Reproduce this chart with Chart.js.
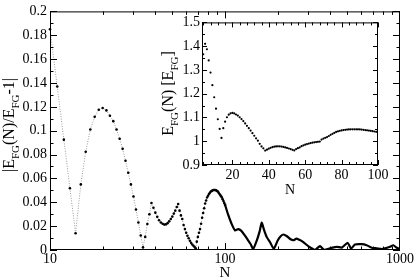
<!DOCTYPE html>
<html>
<head>
<meta charset="utf-8">
<title>Finite-N energy deviation</title>
<script src="https://cdn.jsdelivr.net/npm/chart.js"></script>
<style>
  body{margin:0;background:#fff}
  #wrap{position:relative;width:415px;height:279px;background:#fff}
  #main{position:absolute;left:0;top:0;width:415px;height:279px}
  #inset{position:absolute;left:148px;top:12px;width:244px;height:190px}
</style>
</head>
<body>
<div id="wrap">
  <canvas id="main" width="415" height="279"></canvas>
  <canvas id="inset" width="244" height="190"></canvas>
</div>
<script>
// main panel, N = 10..100 (one dot per N)
const dotN = [10,11,12,13,14,15,16,17,18,19,20,21,22,23,24,25,26,27,28,29,
  30,31,32,33,34,35,36,37,38,39,40,41,42,43,44,45,46,47,48,49,
  50,51,52,53,54,55,56,57,58,59,60,61,62,63,64,65,66,67,68,69,
  70,71,72,73,74,75,76,77,78,79,80,81,82,83,84,85,86,87,88,89,
  90,91,92,93,94,95,96,97,98,99,100];
const dotDev = [0.185,0.137,0.0925,0.0517,0.0141,0.055,0.0824,0.101,0.1116,0.1176,
  0.119,0.117,0.1125,0.108,0.101,0.0933,0.0848,0.0748,0.0648,0.055,
  0.0449,0.034,0.0231,0.0122,0.0022,0.011,0.0218,0.030,0.0394,0.0354,
  0.0313,0.0278,0.025,0.0231,0.022,0.0213,0.0215,0.0225,0.024,0.026,
  0.028,0.0305,0.033,0.036,0.0385,0.033,0.029,0.026,0.021,0.0175,
  0.0145,0.012,0.0098,0.0078,0.006,0.0046,0.0036,0.0025,0.0015,0.007,
  0.011,0.0145,0.0175,0.022,0.027,0.031,0.035,0.039,0.0415,0.044,
  0.0455,0.047,0.048,0.049,0.0495,0.050,0.0503,0.0503,0.0503,0.050,
  0.0495,0.049,0.048,0.047,0.046,0.045,0.044,0.0425,0.041,0.0395,
  0.038];

// main panel, N > 100 (dense, drawn as a thick line)
const tailN = [100,104,109,114,119,124,130,135,140,145,152,158,162,167,173,181,190,
  200,208,216,226,237,246,256,266,279,302,327,349,368,398,435,465,502,525,553,
  604,645,689,736,786,821,877,915,957,1000];
const tailDev = [0.038,0.030,0.022,0.0165,0.0175,0.016,0.012,0.0085,0.005,0.001,0.008,0.016,0.023,0.017,0.011,0.0065,0.001,
  0.008,0.0115,0.013,0.0115,0.009,0.0082,0.0095,0.0085,0.0068,0.0027,0.0002,0.0033,0.0002,0.0014,0.0027,0.002,0.006,0.0012,0.0046,
  0.0049,0.004,0.0019,0.0014,0.0008,0.0014,0.0027,0.004,0.0019,0.0008];

// inset, E_FG(N) in units of E_FG
const insetN = [4,5,6,7,8,9,10,11,12,13,14,15,16,17,18,19,20,21,22,23,24,25,26,27,28,29,
  30,31,32,33,34,35,36,37,38,39,40,41,42,43,44,45,46,47,48,49,
  50,51,52,53,54,55,56,57,58,59,60,61,62,63,64,65,66,67,68,69,
  70,71,72,73,74,75,76,77,78,79,80,81,82,83,84,85,86,87,88,89,
  90,91,92,93,94,95,96,97,98,99,100];
const insetE = [1.366,1.41,1.387,1.34,1.289,1.236,
  1.185,1.137,1.0925,1.0517,1.0141,1.055,1.0824,1.101,1.1116,1.1176,
  1.119,1.117,1.1125,1.108,1.101,1.0933,1.0848,1.0748,1.0648,1.055,
  1.0449,1.034,1.0231,1.0122,1.0022,0.989,0.9782,0.970,0.9606,0.9646,
  0.9687,0.9722,0.975,0.9769,0.978,0.9787,0.9785,0.9775,0.976,0.974,
  0.972,0.9695,0.967,0.964,0.9615,0.967,0.971,0.974,0.979,0.9825,
  0.9855,0.988,0.9902,0.9922,0.994,0.9954,0.9964,0.9975,0.9985,1.007,
  1.011,1.0145,1.0175,1.022,1.027,1.031,1.035,1.039,1.0415,1.044,
  1.0455,1.047,1.048,1.049,1.0495,1.050,1.0503,1.0503,1.0503,1.050,
  1.0495,1.049,1.048,1.047,1.046,1.045,1.044,1.0425,1.041,1.0395,
  1.038];

const mainXTicks = [10,100,1000];
const mainYTicks = [0,0.02,0.04,0.06,0.08,0.1,0.12,0.14,0.16,0.18,0.2];
const insetXTicks = [20,40,60,80,100];
const insetYTicks = [0.9,1,1.1,1.2,1.3,1.4,1.5];

const SERIF = '"Liberation Serif", "DejaVu Serif", serif';
const pts = (xs, ys) => xs.map((x, i) => ({x: x, y: ys[i]}));
const fmt = v => String(+(+v).toFixed(3));

// inward ticks on all four sides + frame
const frameTicks = {
  id: 'frameTicks',
  afterDraw(chart, args, o) {
    const {ctx, chartArea: a} = chart;
    const sx = chart.scales.x, sy = chart.scales.y;
    ctx.save();
    ctx.strokeStyle = '#000';
    ctx.lineWidth = 1;
    ctx.beginPath();
    const tx = (v, len) => {
      const px = Math.round(sx.getPixelForValue(v)) + 0.5;
      ctx.moveTo(px, a.bottom); ctx.lineTo(px, a.bottom - len);
      ctx.moveTo(px, a.top); ctx.lineTo(px, a.top + len);
    };
    const ty = (v, len) => {
      const py = Math.round(sy.getPixelForValue(v)) + 0.5;
      ctx.moveTo(a.left, py); ctx.lineTo(a.left + len, py);
      ctx.moveTo(a.right, py); ctx.lineTo(a.right - len, py);
    };
    o.xMajor.forEach(v => tx(v, o.major));
    o.xMinor.forEach(v => tx(v, o.minor));
    o.yMajor.forEach(v => ty(v, o.major));
    o.yMinor.forEach(v => ty(v, o.minor));
    ctx.stroke();
    ctx.strokeRect(a.left + 0.5, a.top + 0.5, a.right - a.left - 1, a.bottom - a.top - 1);
    ctx.restore();
  }
};

// axis titles with subscripts
function drawRich(ctx, parts, x, y, rot, size) {
  const big = size + 'px ' + SERIF, small = Math.round(size * 0.68) + 'px ' + SERIF;
  ctx.save();
  ctx.translate(x, y);
  ctx.rotate(rot);
  ctx.fillStyle = '#000';
  ctx.textBaseline = 'alphabetic';
  let w = 0;
  const ws = parts.map(p => { ctx.font = p.sub ? small : big; const m = ctx.measureText(p.t).width; w += m; return m; });
  let cx = -w / 2;
  parts.forEach((p, i) => {
    ctx.font = p.sub ? small : big;
    ctx.fillText(p.t, cx, p.sub ? size * 0.3 : 0);
    cx += ws[i];
  });
  ctx.restore();
}
const titles = {
  id: 'titles',
  afterDraw(chart, args, o) {
    o.items.forEach(it => drawRich(chart.ctx, it.parts, it.x, it.y, it.rot, it.size));
  }
};

const tickFont = {family: SERIF, size: 14};
const minorRange = (from, to, step, skip) => {
  const out = [];
  for (let v = from; v <= to + 1e-9; v += step) {
    const r = +v.toFixed(4);
    if (!skip(r)) out.push(r);
  }
  return out;
};

new Chart(document.getElementById('main'), {
  type: 'scatter',
  data: {
    datasets: [
      {data: pts(tailN, tailDev), showLine: true, borderColor: '#000', borderWidth: 2.2,
       pointRadius: 0, tension: 0.2},
      {data: pts(dotN, dotDev), showLine: true, borderColor: '#9a9a9a', borderWidth: 1, clip: 3,
       borderDash: [1, 1.5], pointRadius: 1.3, pointBorderWidth: 0, pointBackgroundColor: '#000'}
    ]
  },
  options: {
    responsive: false, animation: false, devicePixelRatio: 1,
    layout: {padding: {left: 0, right: 15, top: 5, bottom: 0}},
    plugins: {
      legend: {display: false}, tooltip: {enabled: false},
      frameTicks: {
        major: 7, minor: 3.5,
        xMajor: [100], xMinor: [20,30,40,50,60,70,80,90,200,300,400,500,600,700,800,900],
        yMajor: mainYTicks, yMinor: minorRange(0.01, 0.19, 0.02, () => false)
      },
      titles: {items: [
        {parts: [{t: 'N'}], x: 225, y: 277, rot: 0, size: 15},
        {parts: [{t: '|E'}, {t: 'FG', sub: true}, {t: '(N)/E'}, {t: 'FG', sub: true}, {t: '-1|'}],
         x: 14, y: 125, rot: -Math.PI / 2, size: 16}
      ]}
    },
    scales: {
      x: {
        type: 'logarithmic', min: 10, max: 1000,
        grid: {display: false, drawTicks: false}, border: {display: false},
        afterBuildTicks: s => { s.ticks = mainXTicks.map(v => ({value: v})); },
        afterFit: s => { s.height = 29; },
        ticks: {font: tickFont, color: '#000', padding: 1, maxRotation: 0, autoSkip: false, callback: v => String(v)}
      },
      y: {
        min: 0, max: 0.2,
        grid: {display: false, drawTicks: false}, border: {display: false},
        afterBuildTicks: s => { s.ticks = mainYTicks.map(v => ({value: v})); },
        afterFit: s => { s.width = 50; },
        ticks: {font: tickFont, color: '#000', padding: 3, autoSkip: false, callback: fmt}
      }
    }
  },
  plugins: [frameTicks, titles]
});

new Chart(document.getElementById('inset'), {
  type: 'scatter',
  data: {
    datasets: [
      {data: pts(insetN, insetE), showLine: false, pointRadius: 1.1, pointBorderWidth: 0, pointBackgroundColor: '#000'}
    ]
  },
  options: {
    responsive: false, animation: false, devicePixelRatio: 1,
    layout: {padding: {left: 0, right: 14, top: 10, bottom: 0}},
    plugins: {
      legend: {display: false}, tooltip: {enabled: false},
      frameTicks: {
        major: 5, minor: 3,
        xMajor: insetXTicks, xMinor: minorRange(4, 96, 4, v => v % 20 === 0),
        yMajor: insetYTicks, yMinor: minorRange(0.95, 1.45, 0.1, () => false)
      },
      titles: {items: [
        {parts: [{t: 'N'}], x: 142, y: 182, rot: 0, size: 14},
        {parts: [{t: 'E'}, {t: 'FG', sub: true}, {t: '(N) [E'}, {t: 'FG', sub: true}, {t: ']'}],
         x: 25, y: 81.5, rot: -Math.PI / 2, size: 16}
      ]}
    },
    scales: {
      x: {
        type: 'linear', min: 3.3, max: 100,
        grid: {display: false, drawTicks: false}, border: {display: false},
        afterBuildTicks: s => { s.ticks = insetXTicks.map(v => ({value: v})); },
        afterFit: s => { s.height = 37; },
        ticks: {font: tickFont, color: '#000', padding: 2, maxRotation: 0, autoSkip: false, callback: fmt}
      },
      y: {
        min: 0.9, max: 1.5,
        grid: {display: false, drawTicks: false}, border: {display: false},
        afterBuildTicks: s => { s.ticks = insetYTicks.map(v => ({value: v})); },
        afterFit: s => { s.width = 54; },
        ticks: {font: tickFont, color: '#000', padding: 2, autoSkip: false, callback: fmt}
      }
    }
  },
  plugins: [frameTicks, titles]
});
</script>
</body>
</html>
